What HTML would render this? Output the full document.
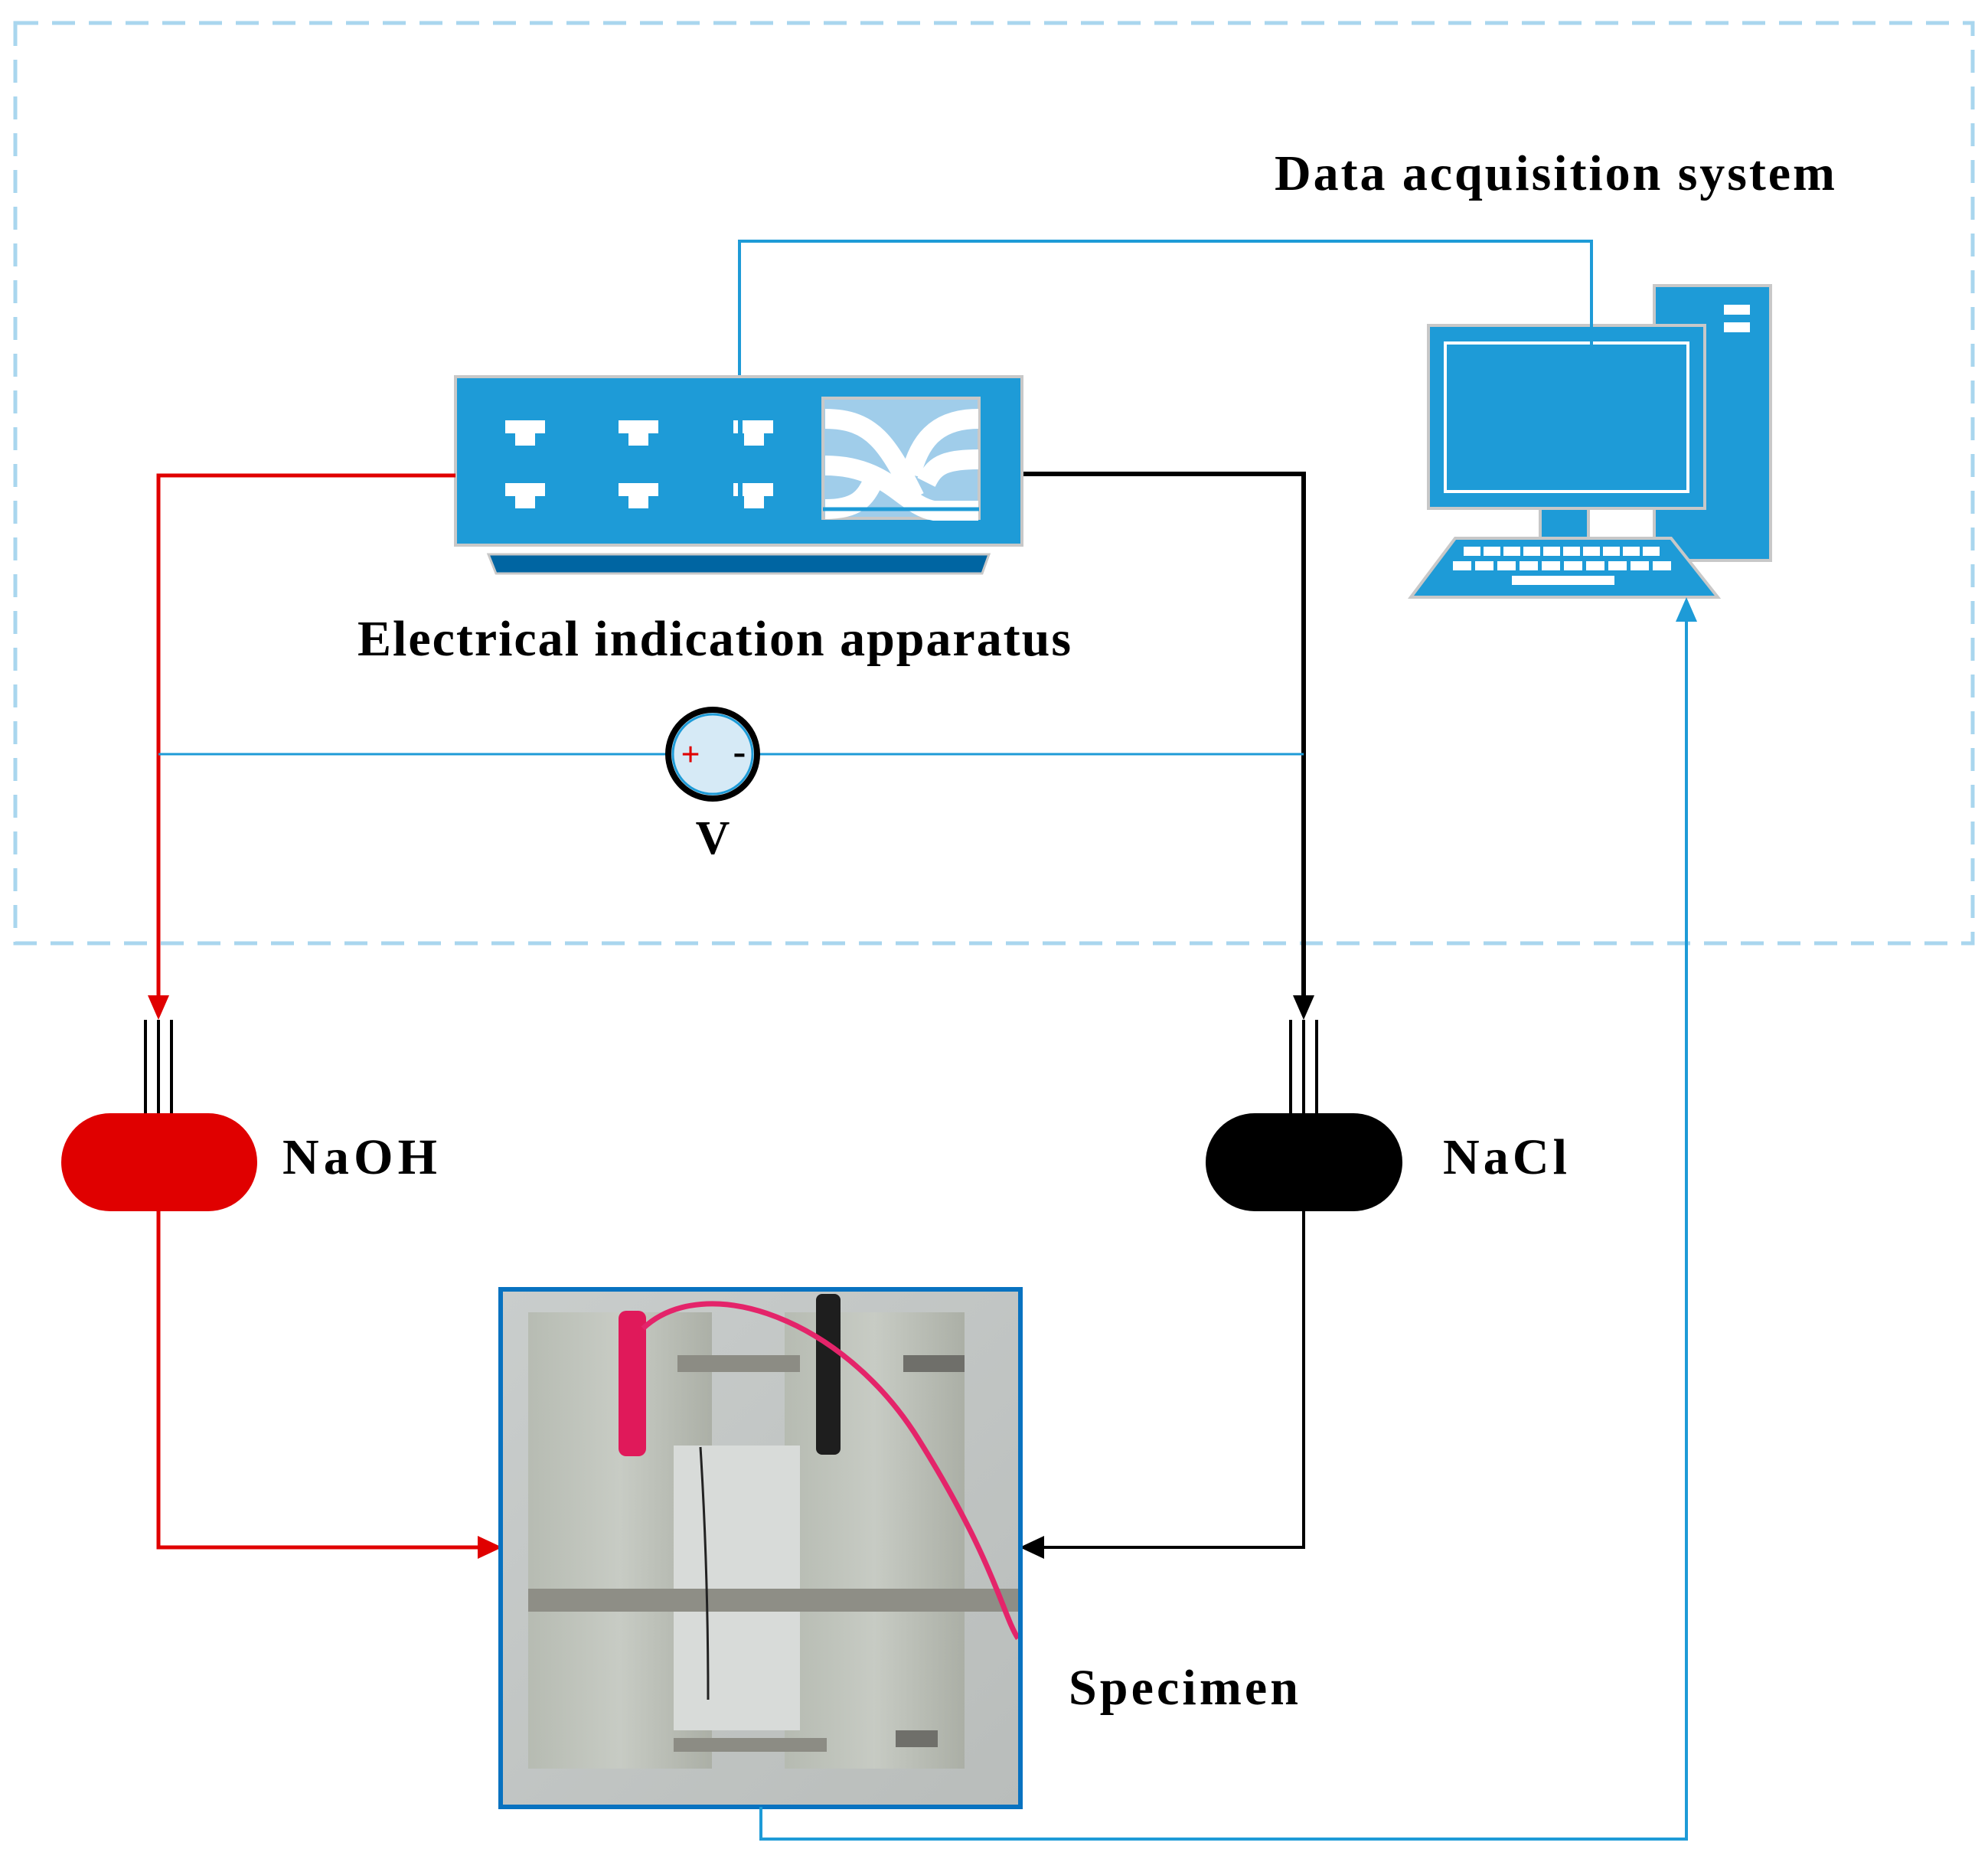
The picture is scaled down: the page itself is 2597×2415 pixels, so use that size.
<!DOCTYPE html>
<html><head><meta charset="utf-8"><style>
html,body{margin:0;padding:0;background:#fff;}
svg{display:block;}
text{font-family:"Liberation Serif",serif;font-weight:bold;fill:#000;}
</style></head><body>
<svg width="2597" height="2415" viewBox="0 0 2597 2415" xmlns="http://www.w3.org/2000/svg">
<defs>
<linearGradient id="bg" x1="0" y1="0" x2="1" y2="1"><stop offset="0" stop-color="#c9cdcc"/><stop offset="1" stop-color="#b9bdbb"/></linearGradient>
<linearGradient id="blk" x1="0" y1="0" x2="1" y2="0"><stop offset="0" stop-color="#b5bab0"/><stop offset="0.5" stop-color="#c8ccc4"/><stop offset="1" stop-color="#a9ada3"/></linearGradient>
</defs>
<rect x="20" y="30" width="2557" height="1202" fill="none" stroke="#a9d6ee" stroke-width="5" stroke-dasharray="30,18"/>

<text x="1665" y="248" font-size="66" textLength="732" lengthAdjust="spacing">Data acquisition system</text>
<text x="467" y="856" font-size="66" textLength="932" lengthAdjust="spacing">Electrical indication apparatus</text>
<text x="931" y="1115" font-size="62" text-anchor="middle">V</text>
<text x="369" y="1533" font-size="66" textLength="202" lengthAdjust="spacing">NaOH</text>
<text x="1885" y="1533" font-size="66" textLength="162" lengthAdjust="spacing">NaCl</text>
<text x="1396" y="2226" font-size="66" textLength="300" lengthAdjust="spacing">Specimen</text>

<polyline points="966,490 966,315 2079,315 2079,450" fill="none" stroke="#1e9bd7" stroke-width="4"/>

<rect x="595" y="492" width="740" height="220" fill="#1e9bd7" stroke="#c8c8c8" stroke-width="4"/>
<polygon points="638,724 1292,724 1283,749 648,749" fill="#0065a2" stroke="#c8c8c8" stroke-width="3"/>
<g fill="#fff">
<rect x="660" y="549" width="52" height="17"/><rect x="673" y="566" width="26" height="16"/>
<rect x="660" y="631" width="52" height="17"/><rect x="673" y="648" width="26" height="16"/>
<rect x="808" y="549" width="52" height="17"/><rect x="821" y="566" width="26" height="16"/>
<rect x="808" y="631" width="52" height="17"/><rect x="821" y="648" width="26" height="16"/>
<rect x="958" y="549" width="6" height="17"/><rect x="970" y="549" width="40" height="17"/><rect x="972" y="566" width="26" height="16"/>
<rect x="958" y="631" width="6" height="17"/><rect x="970" y="631" width="40" height="17"/><rect x="972" y="648" width="26" height="16"/>
</g>
<rect x="1075" y="520" width="204" height="157" fill="#a0cdea" stroke="#c8c8c8" stroke-width="4"/>
<g fill="none" stroke="#fff" stroke-width="26">
<path d="M1078,547 C1140,547 1160,580 1195,650"/>
<path d="M1078,608 C1160,608 1180,660 1220,667 L1278,667"/>
<path d="M1278,547 C1220,547 1200,580 1190,620"/>
<path d="M1278,600 C1230,600 1220,610 1210,630"/>
<path d="M1078,665 C1120,665 1130,650 1140,630"/>
</g>
<line x1="1075" y1="665" x2="1279" y2="665" stroke="#1e9bd7" stroke-width="5"/>

<rect x="2161" y="373" width="152" height="359" fill="#1e9bd7" stroke="#c8c8c8" stroke-width="4"/>
<rect x="2252" y="398" width="34" height="13" fill="#fff"/><rect x="2252" y="421" width="34" height="13" fill="#fff"/>
<rect x="1866" y="425" width="361" height="239" fill="#1e9bd7" stroke="#c8c8c8" stroke-width="4"/>
<rect x="1888" y="448" width="317" height="194" fill="none" stroke="#fff" stroke-width="4"/>
<line x1="2079" y1="420" x2="2079" y2="450" stroke="#1e9bd7" stroke-width="4"/>
<rect x="2012" y="664" width="63" height="39" fill="#1e9bd7" stroke="#c8c8c8" stroke-width="4"/>
<polygon points="1901,703 2183,703 2244,780 1843,780" fill="#1e9bd7" stroke="#c8c8c8" stroke-width="4"/>
<g fill="#fff">
<rect x="1912" y="714" width="22" height="12"/><rect x="1938" y="714" width="22" height="12"/><rect x="1964" y="714" width="22" height="12"/><rect x="1990" y="714" width="22" height="12"/><rect x="2016" y="714" width="22" height="12"/><rect x="2042" y="714" width="22" height="12"/><rect x="2068" y="714" width="22" height="12"/><rect x="2094" y="714" width="22" height="12"/><rect x="2120" y="714" width="22" height="12"/><rect x="2146" y="714" width="22" height="12"/>
<rect x="1898" y="733" width="24" height="12"/><rect x="1927" y="733" width="24" height="12"/><rect x="1956" y="733" width="24" height="12"/><rect x="1985" y="733" width="24" height="12"/><rect x="2014" y="733" width="24" height="12"/><rect x="2043" y="733" width="24" height="12"/><rect x="2072" y="733" width="24" height="12"/><rect x="2101" y="733" width="24" height="12"/><rect x="2130" y="733" width="24" height="12"/><rect x="2159" y="733" width="24" height="12"/>
<rect x="1975" y="752" width="134" height="12"/>
</g>

<polyline points="595,621 207,621 207,1312" fill="none" stroke="#e00000" stroke-width="5"/>
<polygon points="193,1300 221,1300 207,1332" fill="#e00000"/>
<g stroke="#000" stroke-width="4"><line x1="190" y1="1332" x2="190" y2="1456"/><line x1="207" y1="1332" x2="207" y2="1456"/><line x1="224" y1="1332" x2="224" y2="1456"/></g>
<rect x="80" y="1454" width="256" height="128" rx="64" fill="#e00000"/>
<polyline points="207,1582 207,2021 636,2021" fill="none" stroke="#e00000" stroke-width="5"/>
<polygon points="624,2006 656,2021 624,2036" fill="#e00000"/>

<polyline points="1337,619 1703,619 1703,1312" fill="none" stroke="#000" stroke-width="6"/>
<polygon points="1689,1300 1717,1300 1703,1332" fill="#000"/>
<g stroke="#000" stroke-width="4"><line x1="1686" y1="1332" x2="1686" y2="1456"/><line x1="1703" y1="1332" x2="1703" y2="1456"/><line x1="1720" y1="1332" x2="1720" y2="1456"/></g>
<rect x="1575" y="1454" width="257" height="128" rx="64" fill="#000"/>
<polyline points="1703,1582 1703,2021 1352,2021" fill="none" stroke="#000" stroke-width="4"/>
<polygon points="1364,2006 1332,2021 1364,2036" fill="#000"/>

<line x1="207" y1="985" x2="1703" y2="985" stroke="#1e9bd7" stroke-width="3"/>
<circle cx="931" cy="985" r="58" fill="#d6eaf6" stroke="#000" stroke-width="8"/>
<circle cx="931" cy="985" r="52" fill="none" stroke="#1e9bd7" stroke-width="3"/>
<text x="902" y="1000" font-size="44" text-anchor="middle" style="fill:#e00000">+</text>
<text x="966" y="998" font-size="50" text-anchor="middle">-</text>

<!-- specimen photo -->
<rect x="656" y="1686" width="675" height="672" fill="url(#bg)"/>
<rect x="690" y="1714" width="240" height="596" fill="url(#blk)" opacity="0.9"/>
<rect x="1025" y="1714" width="235" height="596" fill="url(#blk)" opacity="0.9"/>
<rect x="880" y="1888" width="165" height="372" fill="#d8dbd9"/>
<rect x="885" y="1770" width="160" height="22" fill="#8c8c84"/>
<rect x="690" y="2075" width="640" height="30" fill="#8e8e86"/>
<rect x="880" y="2270" width="200" height="18" fill="#8c8c84"/>
<rect x="1180" y="1770" width="80" height="22" fill="#6f6f6a"/>
<rect x="1170" y="2260" width="55" height="22" fill="#6f6f6a"/>
<path d="M915,1890 Q925,2050 925,2220" fill="none" stroke="#222" stroke-width="3"/>
<rect x="808" y="1712" width="36" height="190" rx="10" fill="#e0195a"/>
<rect x="1066" y="1690" width="32" height="210" rx="8" fill="#1e1e1e"/>
<path d="M840,1735 C920,1660 1100,1720 1200,1880 S1310,2110 1330,2140" fill="none" stroke="#e4246a" stroke-width="7"/>
<rect x="654" y="1684" width="679" height="676" fill="none" stroke="#0872c0" stroke-width="6"/>

<polyline points="994,2360 994,2402 2203,2402 2203,795" fill="none" stroke="#1e9bd7" stroke-width="4"/>
<polygon points="2189,812 2217,812 2203,780" fill="#1e9bd7"/>
</svg>
</body></html>
